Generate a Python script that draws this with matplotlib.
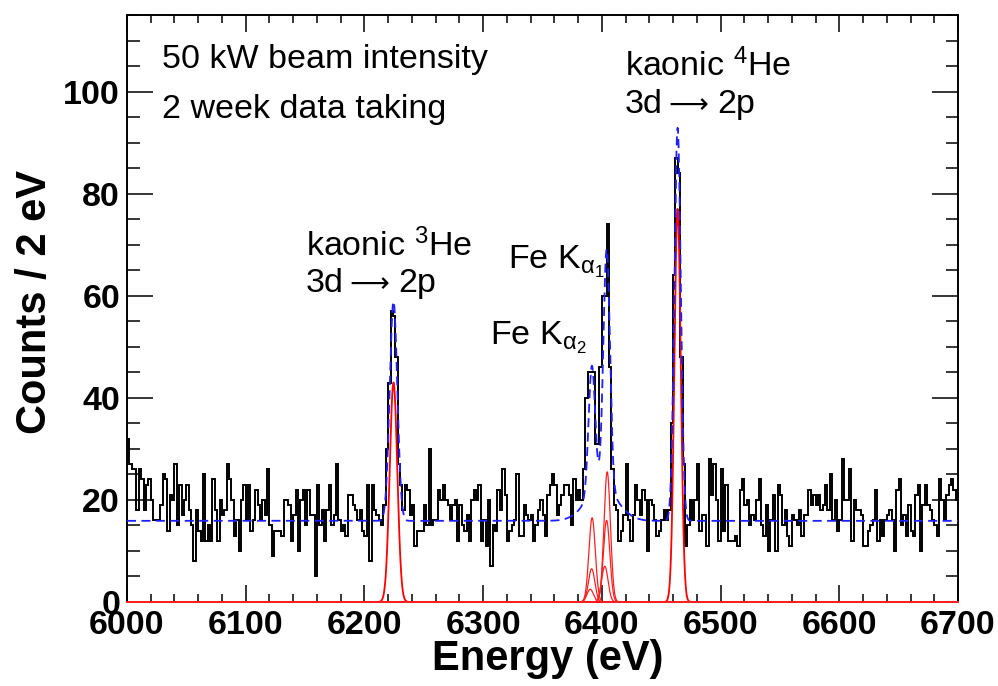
import numpy as np
import matplotlib
matplotlib.use("Agg")
import matplotlib.pyplot as plt
from matplotlib.ticker import MultipleLocator

# ---------------- data (counts per 2 eV bin) ----------------
E_MIN, E_MAX, BIN_W = 6000, 6700, 2

counts_6000_6117 = [32, 27, 26, 26, 18, 26, 24, 18, 23, 24, 20, 16, 16, 16, 19, 25, 24, 14, 21, 20,
                    27, 15, 23, 17, 20, 23, 18, 15, 8, 18, 14, 12, 25, 12, 15, 12, 24, 18, 12, 20,
                    17, 18, 27, 24, 20, 13, 16, 10, 20, 23, 16, 23, 14, 16, 22, 19, 16, 20, 17]
counts_6118_6217 = [26, 15, 9, 14, 14, 14, 13, 20, 20, 19, 12, 17, 22, 10, 20, 22, 15, 22, 17, 17,
                    5, 23, 15, 18, 12, 18, 23, 15, 17, 27, 16, 14, 15, 13, 21, 21, 19, 18, 16, 18,
                    14, 13, 23, 8, 23, 18, 17, 16, 15, 19]
counts_6218_6233 = [30, 43, 57, 56, 48, 27, 23, 18]
counts_6234_6353 = [23, 22, 17, 19, 11, 14, 14, 14, 19, 15, 30, 15, 16, 16, 22, 20, 23, 20, 19, 16,
                    19, 20, 12, 19, 15, 14, 17, 12, 20, 22, 20, 23, 12, 16, 11, 20, 7, 15, 14, 22,
                    18, 26, 21, 12, 14, 15, 16, 25, 13, 13, 19, 17, 16, 17, 12, 15, 18, 20, 17, 13]
counts_6354_6383 = [21, 23, 25, 23, 17, 19, 21, 23, 23, 21, 15, 24, 20, 22, 20]
counts_6384_6409 = [26, 40, 45, 45, 45, 31, 31, 46, 60, 60, 74, 46, 26]
counts_6410_6457 = [19, 18, 12, 14, 17, 27, 16, 12, 17, 23, 20, 17, 22, 20, 10, 20, 19, 16, 13, 14,
                    16, 18, 16, 18]
counts_6458_6479 = [35, 64, 87, 84, 48, 27, 11, 15, 20, 16, 20]
counts_6480_6589 = [27, 14, 17, 17, 11, 28, 21, 27, 20, 12, 26, 14, 23, 12, 12, 12, 13, 11, 22, 24,
                    19, 20, 15, 17, 16, 20, 24, 15, 13, 19, 10, 16, 21, 10, 23, 21, 15, 18, 13, 11,
                    17, 16, 15, 18, 13, 17, 17, 22, 19, 21, 19, 21, 18, 19, 23]
counts_6590_6699 = [18, 25, 16, 20, 14, 16, 28, 20, 20, 26, 12, 20, 18, 18, 17, 11, 11, 14, 15, 16,
                    22, 12, 16, 13, 16, 17, 18, 16, 10, 22, 24, 15, 17, 13, 19, 14, 13, 21, 23, 10,
                    19, 23, 19, 18, 16, 15, 13, 24, 20, 16, 21, 23, 24, 22, 20]

# fit components (read from the red / blue curves)
background = 15.9
he_centers = [6224.5, 6463.8]          # kaonic 3He, kaonic 4He
he_amps = [43.0, 77.0]
he_sigmas = [3.2, 2.7]
fe_centers = [6404.5, 6404.0, 6402.5, 6391.8, 6391.4, 6390.2]
fe_amps = [25.5, 16.0, 7.0, 16.5, 6.5, 2.5]
fe_sigma = 2.7
fe_shoulder_center, fe_shoulder_amp, fe_shoulder_sigma = 6400.0, 6.5, 13.0

# ---------------- style ----------------
plt.rcParams["font.family"] = ["Liberation Sans", "DejaVu Sans"]
plt.rcParams["font.weight"] = "bold"
plt.rcParams["mathtext.fontset"] = "custom"
plt.rcParams["mathtext.rm"] = "Liberation Sans"
plt.rcParams["mathtext.default"] = "regular"

counts = np.concatenate([counts_6000_6117, counts_6118_6217, counts_6218_6233, counts_6234_6353,
                         counts_6354_6383, counts_6384_6409, counts_6410_6457, counts_6458_6479,
                         counts_6480_6589, counts_6590_6699]).astype(float)
edges = np.arange(E_MIN, E_MAX + BIN_W / 2, BIN_W)


def gauss(x, c, a, s):
    return a * np.exp(-0.5 * ((x - c) / s) ** 2)


fig = plt.figure(figsize=(9.98, 6.86), dpi=100)
ax = fig.add_axes([127 / 998, 1 - 602 / 686, (958 - 127) / 998, (602 - 15) / 686])

ax.stairs(counts, edges, color="black", lw=1.4, baseline=None, zorder=3)

x = np.linspace(E_MIN, E_MAX, 14001)
total = np.full_like(x, background)
for c, a, s in zip(he_centers, he_amps, he_sigmas):
    g = gauss(x, c, a, s)
    total += g
    ax.plot(x, g, color="#ff0000", lw=1.3, zorder=4, clip_on=False)
for c, a in zip(fe_centers, fe_amps):
    g = gauss(x, c, a, fe_sigma)
    total += g
    ax.plot(x, g, color="#ff2020", lw=0.9, zorder=4, clip_on=False)
total += gauss(x, fe_shoulder_center, fe_shoulder_amp, fe_shoulder_sigma)
ax.plot(x, total, color="#1f1fff", lw=1.3, ls=(0, (5, 3)), zorder=5)

ax.set_xlim(E_MIN, E_MAX)
ax.set_ylim(0, 115)
ax.xaxis.set_major_locator(MultipleLocator(100))
ax.xaxis.set_minor_locator(MultipleLocator(20))
ax.yaxis.set_major_locator(MultipleLocator(20))
ax.yaxis.set_minor_locator(MultipleLocator(5))
ax.tick_params(which="both", direction="in", top=True, right=True, width=1.1, labelsize=24.5)
ax.tick_params(axis="x", which="major", length=12.5, pad=6)
ax.tick_params(axis="x", which="minor", length=6)
ax.tick_params(axis="y", which="major", length=19, pad=5)
ax.tick_params(axis="y", which="minor", length=9)
for sp in ax.spines.values():
    sp.set_linewidth(1.4)

fig.text(548 / 998, 1 - 670 / 686, "Energy (eV)", ha="center", va="baseline",
         fontsize=30, fontweight="bold")
fig.text(55 / 998, 1 - 302 / 686, "Counts / 2 eV", rotation=90, ha="right", va="center",
         fontsize=30, fontweight="bold")

tkw = dict(fontsize=24.5, fontweight="normal", ha="left", va="baseline", zorder=6)
akw = dict(fontsize=20, fontweight="normal", ha="left", va="baseline", zorder=6,
           family="DejaVu Sans")
ax.text(6029.5, 104.7, "50 kW beam intensity", **tkw)
ax.text(6029.5, 94.8, "2 week data taking", **tkw)

ax.text(6150.8, 67.8, "kaonic $^{3}$He", **tkw)
ax.text(6150.8, 60.8, "3d", **tkw)
ax.text(6187.0, 60.8, "⟶", **akw)
ax.text(6228.3, 60.8, "2p", **tkw)

ax.text(6321.0, 65.2, "Fe K$_{α_{1}}$", **tkw)
ax.text(6305.8, 50.4, "Fe K$_{α_{2}}$", **tkw)

ax.text(6419.5, 103.0, "kaonic $^{4}$He", **tkw)
ax.text(6419.5, 95.8, "3d", **tkw)
ax.text(6455.7, 95.8, "⟶", **akw)
ax.text(6497.0, 95.8, "2p", **tkw)

fig.savefig("out.png", dpi=100)
